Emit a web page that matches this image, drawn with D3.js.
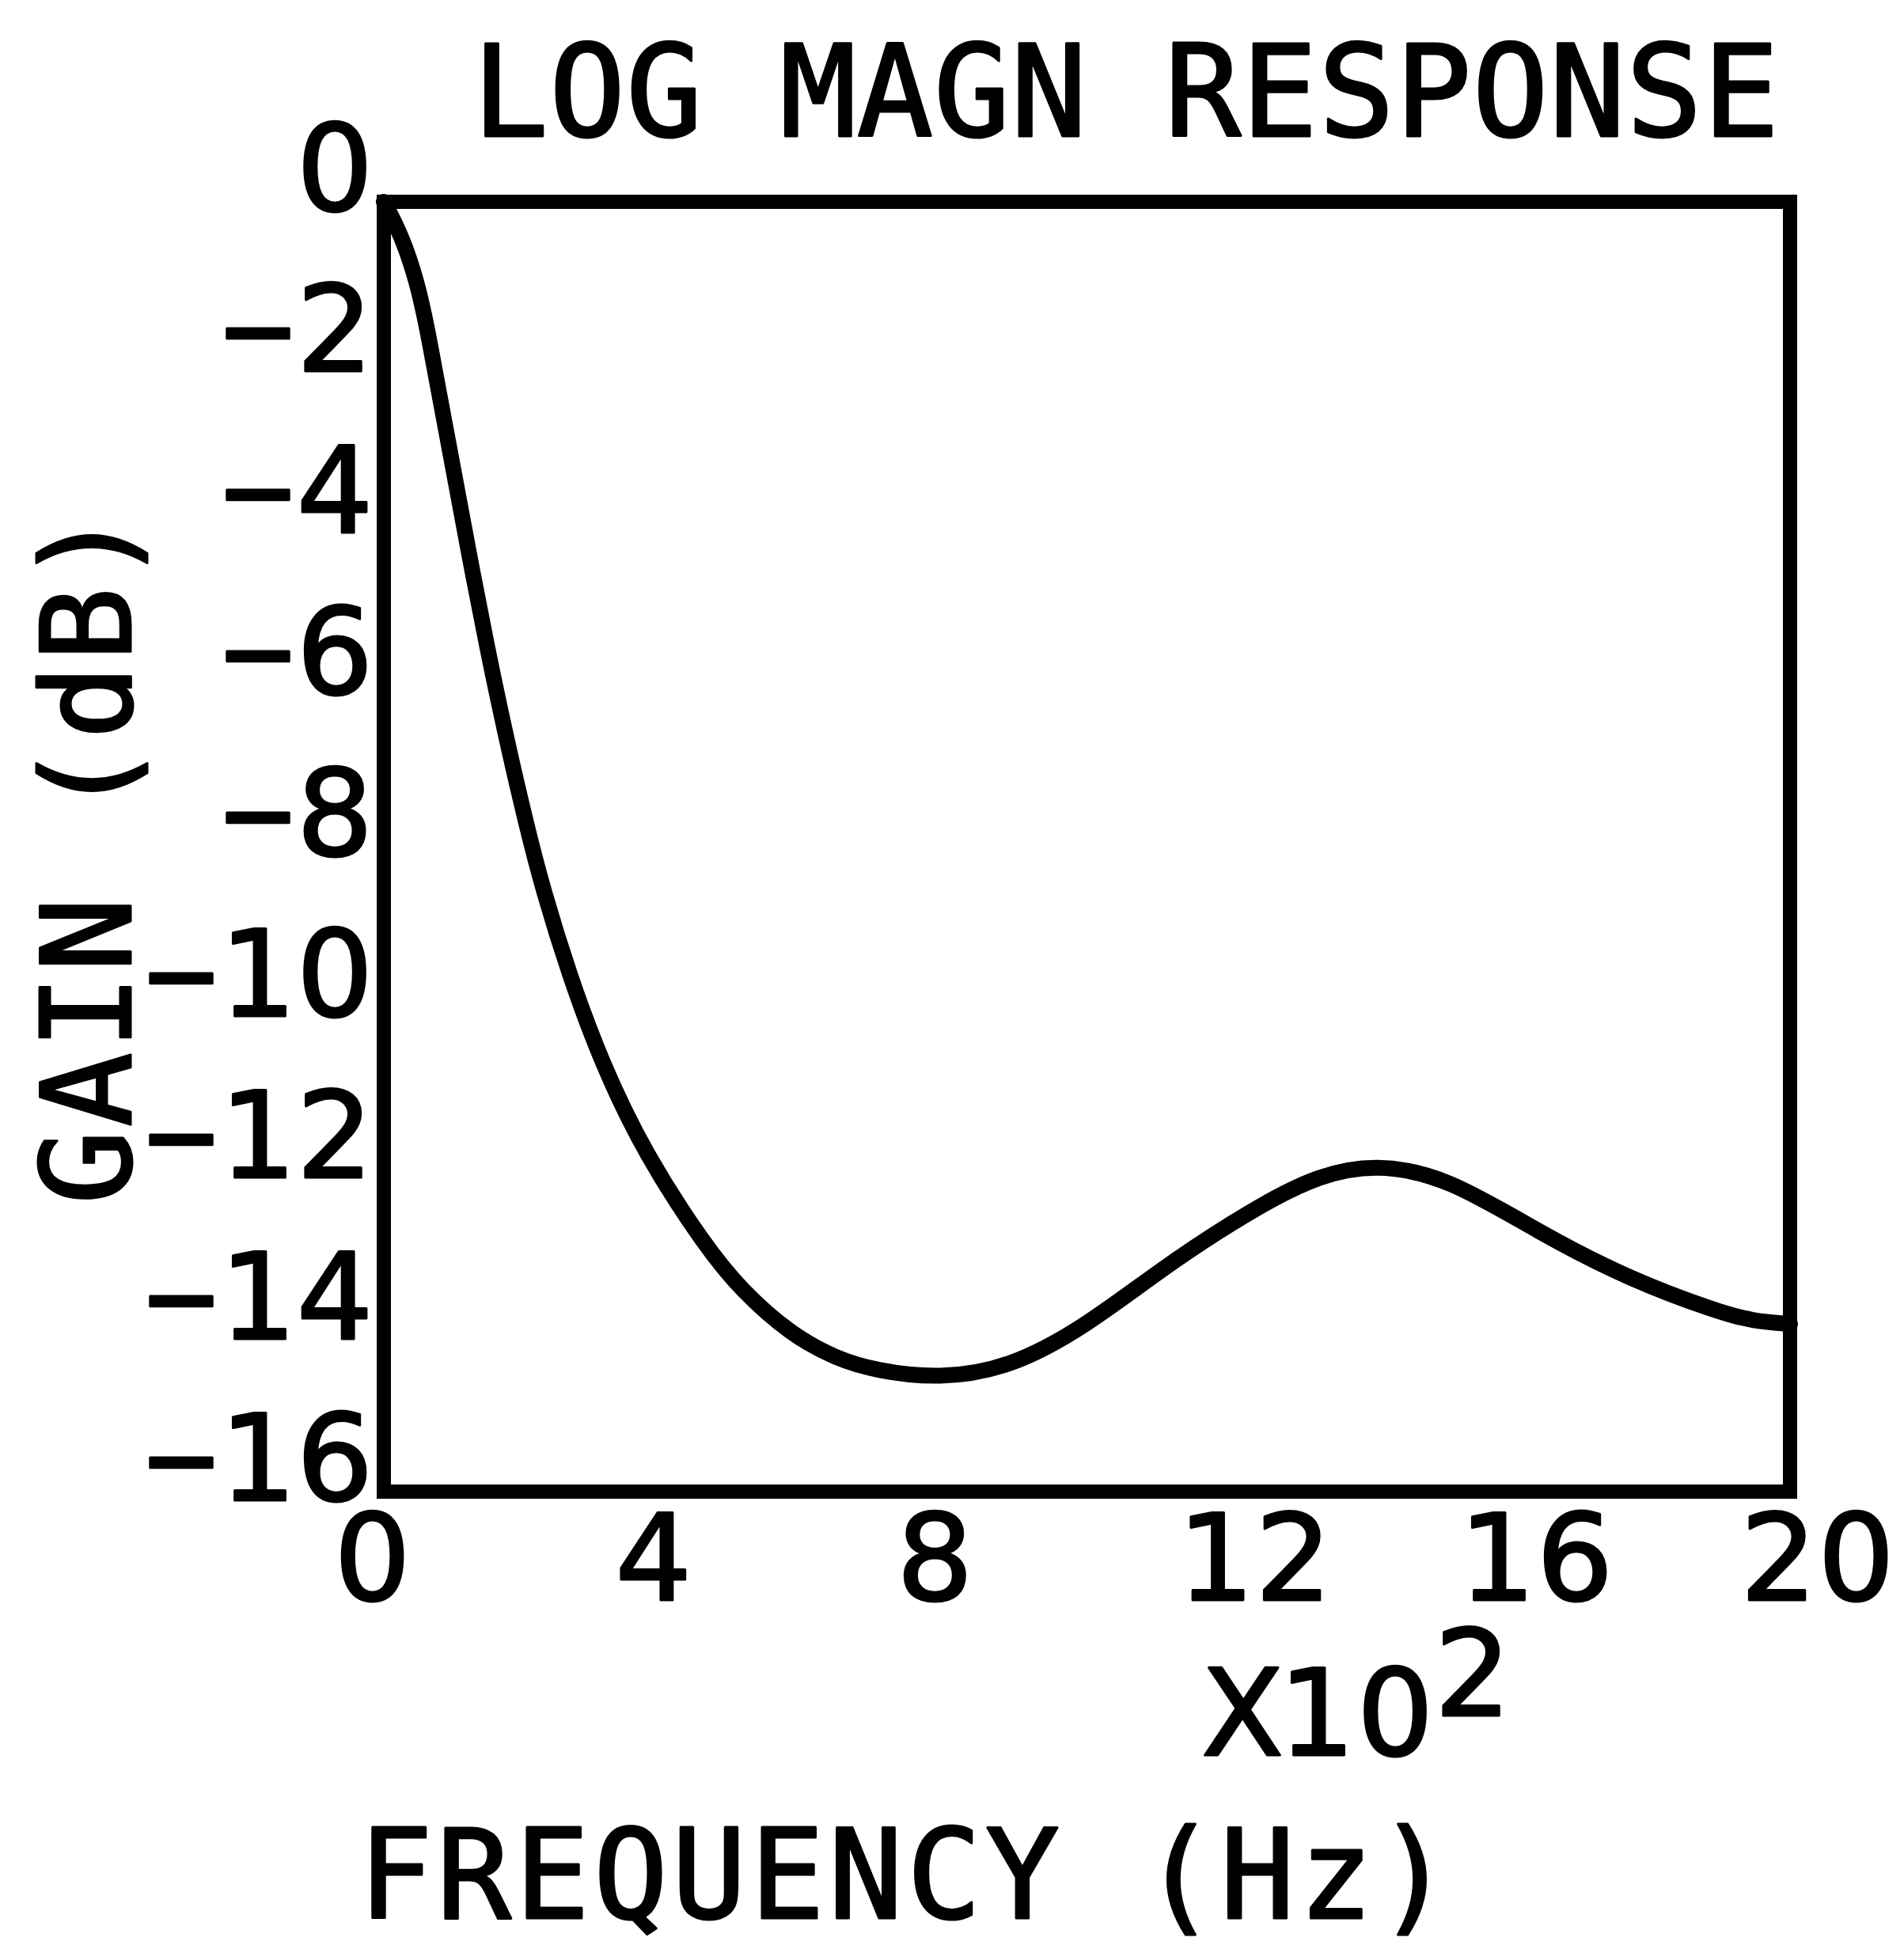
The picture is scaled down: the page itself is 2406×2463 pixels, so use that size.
<!DOCTYPE html>
<html>
<head>
<meta charset="utf-8">
<script src="https://cdn.jsdelivr.net/npm/d3@7"></script>
<style>
  html, body { margin: 0; padding: 0; background: #ffffff; }
  svg { display: block; }
</style>
</head>
<body>
<script>
// ---- data (frequency in units of 10^2 Hz, gain in dB) ----
const freqs = [0, 0.25, 0.47, 0.61, 0.73, 0.85, 0.97, 1.21, 1.46, 1.73, 2.03, 2.27, 2.63, 3.1, 3.72, 4.56, 5.08, 5.79, 6.43, 7.0, 7.9, 8.88, 9.96, 11.25, 12.55, 13.3, 14.1, 15.13, 16.42, 17.72, 19.01, 19.45, 20];
const gains = [0, -0.41, -0.98, -1.54, -2.11, -2.67, -3.23, -4.36, -5.49, -6.61, -7.74, -8.55, -9.57, -10.69, -11.82, -12.94, -13.5, -14.05, -14.35, -14.5, -14.6, -14.47, -13.97, -13.11, -12.4, -12.08, -11.93, -12.1, -12.78, -13.37, -13.78, -13.88, -13.92];

const xTicks = [0, 4, 8, 12, 16, 20];
const xTickLabels = ["0", "4", "8", "12", "16", "20"];
const yTicks = [0, -2, -4, -6, -8, -10, -12, -14, -16];
const yTickLabels = ["0", "\u22122", "\u22124", "\u22126", "\u22128", "\u221210", "\u221212", "\u221214", "\u221216"];

const titleText = "LOG MAGN RESPONSE";
const xLabelText = "FREQUENCY (Hz)";
const yLabelText = "GAIN (dB)";
const xMultBase = "X10";
const xMultExp = "2";

// ---- layout ----
const W = 2406, H = 2463;
const plotL = 485, plotR = 2262, plotT = 255, plotB = 1885;
const MONO = "'DejaVu Sans Mono', 'Liberation Mono', monospace";
const SANS = "'DejaVu Sans', 'Liberation Sans', sans-serif";
const PITCH = 97;

const svg = d3.select("body").append("svg")
  .attr("width", W).attr("height", H)
  .attr("viewBox", `0 0 ${W} ${H}`);

svg.append("rect").attr("width", W).attr("height", H).attr("fill", "#ffffff");

const x = d3.scaleLinear().domain([0, 20]).range([plotL, plotR]);
const y = d3.scaleLinear().domain([0, -16]).range([plotT, plotB]);

function styleText(sel, family, size) {
  sel.attr("font-family", family)
     .attr("font-size", size)
     .attr("fill", "#000")
     .attr("stroke", "#000")
     .attr("stroke-width", 3)
     .attr("stroke-linejoin", "round")
     .attr("text-anchor", "middle");
}
// lay the characters of a text element out on a fixed pitch grid (plotter style)
function gridText(textSel, str, firstCentre, pitch, familyFor) {
  textSel.text(null);
  Array.from(str).forEach((c, i) => {
    const t = textSel.append("tspan").attr("x", (firstCentre + i * pitch).toFixed(1)).text(c);
    if (familyFor) t.attr("font-family", familyFor(c));
  });
}
const numFamily = c => (c === "\u2212" ? MONO : SANS);

// ---- frame ----
svg.append("rect")
  .attr("x", x(0)).attr("y", y(0))
  .attr("width", x(20) - x(0)).attr("height", y(-16) - y(0))
  .attr("fill", "none").attr("stroke", "#000").attr("stroke-width", 18);

// ---- y axis ----
const gy = svg.append("g")
  .attr("transform", `translate(${plotL},0)`)
  .call(d3.axisLeft(y).tickValues(yTicks).tickSize(0).tickFormat((d, i) => yTickLabels[i]));
gy.select(".domain").remove();
gy.selectAll(".tick line").remove();
gy.attr("font-family", null).attr("font-size", null).attr("text-anchor", null);
gy.selectAll(".tick text").each(function () {
  const t = d3.select(this);
  const s = t.text();
  const n = Array.from(s).length;
  t.attr("y", 10).attr("dy", 0).attr("x", null).call(styleText, SANS, 152);
  gridText(t, s, -62 - (n - 1) * PITCH, PITCH, numFamily);
});

// ---- x axis ----
const gx = svg.append("g")
  .attr("transform", `translate(0,${plotB})`)
  .call(d3.axisBottom(x).tickValues(xTicks).tickSize(0).tickFormat((d, i) => xTickLabels[i]));
gx.select(".domain").remove();
gx.selectAll(".tick line").remove();
gx.attr("font-family", null).attr("font-size", null).attr("text-anchor", null);
gx.selectAll(".tick text").each(function () {
  const t = d3.select(this);
  const s = t.text();
  t.attr("y", 137).attr("dy", 0).attr("x", null).call(styleText, SANS, 152);
  gridText(t, s, -15, 98, numFamily);
});

// ---- curve ----
const pts = freqs.map((f, i) => [f, gains[i]]);
const line = d3.line()
  .x(d => x(d[0])).y(d => y(d[1]))
  .curve(d3.curveBasis);
svg.append("path")
  .datum(pts)
  .attr("d", line)
  .attr("fill", "none").attr("stroke", "#000")
  .attr("stroke-width", 20).attr("stroke-linejoin", "round").attr("stroke-linecap", "round");

// ---- titles ----
const title = svg.append("text").attr("y", 172).call(styleText, MONO, 160);
gridText(title, titleText, 645, 97.2);

const xlab = svg.append("text").attr("y", 2424).call(styleText, MONO, 156);
gridText(xlab, xLabelText, 500, 99);

const mult = svg.append("text").attr("y", 2218).call(styleText, SANS, 152);
mult.append("tspan").attr("x", "1570 1664 1763").text(xMultBase);
mult.append("tspan").attr("x", 1861).attr("dy", -50).text(xMultExp);

const ylab = svg.append("text")
  .attr("transform", "translate(165,0) rotate(-90)")
  .attr("y", 0)
  .call(styleText, MONO, 156);
gridText(ylab, yLabelText, -1475, 98);
</script>
</body>
</html>
